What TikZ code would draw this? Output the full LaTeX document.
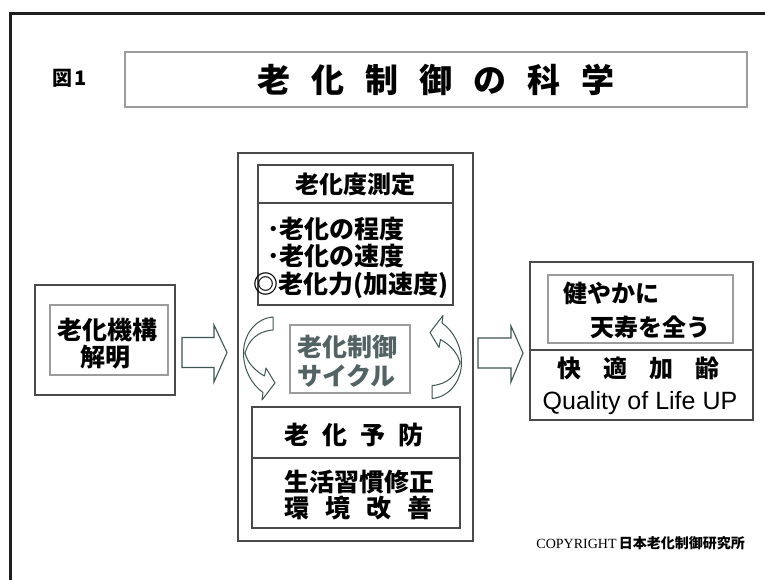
\documentclass[tikz,border=0pt]{standalone}
\usepackage{fontspec}
\setmainfont{Noto Sans CJK JP}
\newfontfamily\latsans{Liberation Sans}
\newfontfamily\latserif{Liberation Serif}
\definecolor{frameC}{HTML}{1E1E1E}
\definecolor{boxD}{HTML}{4A4A4A}
\definecolor{boxL}{HTML}{9C9C9C}
\definecolor{arrC}{HTML}{3E5652}
\definecolor{cycC}{HTML}{536363}
\tikzset{
  boxdark/.style={draw=boxD, line width=1.3pt, inner sep=0pt, fill=white},
  boxlight/.style={draw=boxL, line width=1.1pt, inner sep=0pt, fill=white},
  txt/.style={inner sep=0pt, text=black, font=\bfseries\fontsize{24}{26}\selectfont},
  blockarr/.style={draw=arrC, line width=1.1pt, fill=white, line join=miter},
  cycarr/.style={draw=arrC, line width=1pt, fill=white, line join=round},
}
\newcommand\cyclepath{%
  (13.5,-41.5) .. controls (-4,-40) and (-16,-24) .. (-16,-5.5)
  .. controls (-16,11) and (-8,26) .. (3.5,34)
  -- (2.5,41.5) -- (15.5,24.5) -- (6.5,9.5) -- (5,17.5)
  .. controls (-5,12) and (-12,4) .. (-14.5,-5.5)
  .. controls (-11,-18) and (-2,-27.5) .. (13.5,-28.5) -- cycle}
\begin{document}
\begin{tikzpicture}[x=1pt,y=-1pt]
\useasboundingbox (0,0) rectangle (765,580);
\fill[white] (0,0) rectangle (765,580);
% outer frame
\draw[frameC, line width=2.4pt] (10.5,580) -- (10.5,13.5) -- (765,13.5);

% title
\node[inner sep=0pt, font=\bfseries\fontsize{20}{20}\selectfont] (fig) at (70,78) {図\hspace{2pt}1};
\node[draw=boxL, line width=1.3pt, inner sep=0pt, minimum width=622pt, minimum height=55pt] (title) at (436,79.5) {};
\node[inner sep=0pt, font=\fontsize{33}{33}\selectfont\bfseries] (titletxt) at (title.center)
  {老\hspace{21pt}化\hspace{21pt}制\hspace{21pt}御\hspace{21pt}の\hspace{21pt}科\hspace{21pt}学};

% big central box
\node[boxdark, line width=1.2pt, minimum width=235pt, minimum height=388pt] (big) at (355.5,347) {};

% measurement box
\node[boxdark, minimum width=195pt, minimum height=140pt] (measure) at (355.5,235) {};
\draw[boxD, line width=1.2pt] (measure.west |- 0,203) -- (measure.east |- 0,203);
\node[txt] (mhead) at (355.5,184) {老化度測定};
\node[txt, anchor=west, font=\bfseries\fontsize{25}{25}\selectfont] (m1) at (267,229) {･老化の程度};
\node[txt, anchor=west, font=\bfseries\fontsize{25}{25}\selectfont] (m2) at (267,256) {･老化の速度};
\node[txt, anchor=west, font=\bfseries\fontsize{25}{25}\selectfont] (m3) at (253,285) {◎老化力(加速度)};

% cycle box
\node[boxlight, minimum width=120pt, minimum height=68pt] (cycle) at (350,359) {};
\node[txt, text=cycC, anchor=west, font=\bfseries\fontsize{25}{25}\selectfont] (c1) at (297,347) {老化制御};
\node[txt, text=cycC, anchor=west, font=\bfseries\fontsize{25}{25}\selectfont] (c2) at (297,376) {サイクル};

% cycle arrows
\begin{scope}[shift={(259.5,358.5)}]
  \draw[cycarr] \cyclepath;
\end{scope}
\begin{scope}[shift={(445.5,357)}, rotate=180]
  \draw[cycarr] \cyclepath;
\end{scope}

% prevention box
\node[boxdark, minimum width=208pt, minimum height=121pt] (prevent) at (356,467.5) {};
\draw[boxD, line width=1.2pt] (prevent.west |- 0,458) -- (prevent.east |- 0,458);
\node[txt, font=\bfseries\fontsize{25}{25}\selectfont] (phead) at (354,435) {老\hspace{13pt}化\hspace{13pt}予\hspace{13pt}防};
\node[txt, anchor=west, font=\bfseries\fontsize{25}{25}\selectfont] (p1) at (284,482) {生活習慣修正};
\node[txt, anchor=west, font=\bfseries\fontsize{25}{25}\selectfont] (p2) at (284,508) {環\hspace{16pt}境\hspace{16pt}改\hspace{16pt}善};

% mechanism box
\node[boxdark, minimum width=140pt, minimum height=110pt] (kikouO) at (105,340) {};
\node[boxlight, minimum width=118pt, minimum height=70pt] (kikouI) at (109,340) {};
\node[txt, font=\bfseries\fontsize{25}{25}\selectfont] (k1) at (107,330) {老化機構};
\node[txt, font=\bfseries\fontsize{25}{25}\selectfont] (k2) at (105,357) {解明};

% result box
\node[boxdark, minimum width=223pt, minimum height=158pt] (resultO) at (641.5,341) {};
\node[boxlight, minimum width=185pt, minimum height=68pt] (resultI) at (640.5,309) {};
\draw[boxD, line width=1.2pt] (resultO.west |- 0,350) -- (resultO.east |- 0,350);
\node[txt, anchor=west] (r1) at (563,293) {健やかに};
\node[txt, anchor=west] (r2) at (590,327) {天寿を全う};
\node[txt, anchor=west] (r3) at (557,368) {快\hspace{22pt}適\hspace{22pt}加\hspace{22pt}齢};
\node[inner sep=0pt, font=\latsans\fontsize{25}{25}\selectfont] (r4) at (640,403) {Quality of Life UP};

% block arrows
\draw[blockarr] (182,337.5) -- (214,337.5) -- (214,325) -- (227,352.5) -- (214,382) -- (214,367.5) -- (182,367.5) -- cycle;
\draw[blockarr] (478,338) -- (511,338) -- (511,326) -- (523,353) -- (511,382) -- (511,368) -- (478,368) -- cycle;

% copyright
\node[inner sep=0pt, anchor=east] (copy) at (745,543) {{\latserif\fontsize{14}{14}\selectfont COPYRIGHT} {\bfseries\fontsize{14}{14}\selectfont 日本老化制御研究所}};
\end{tikzpicture}
\end{document}
